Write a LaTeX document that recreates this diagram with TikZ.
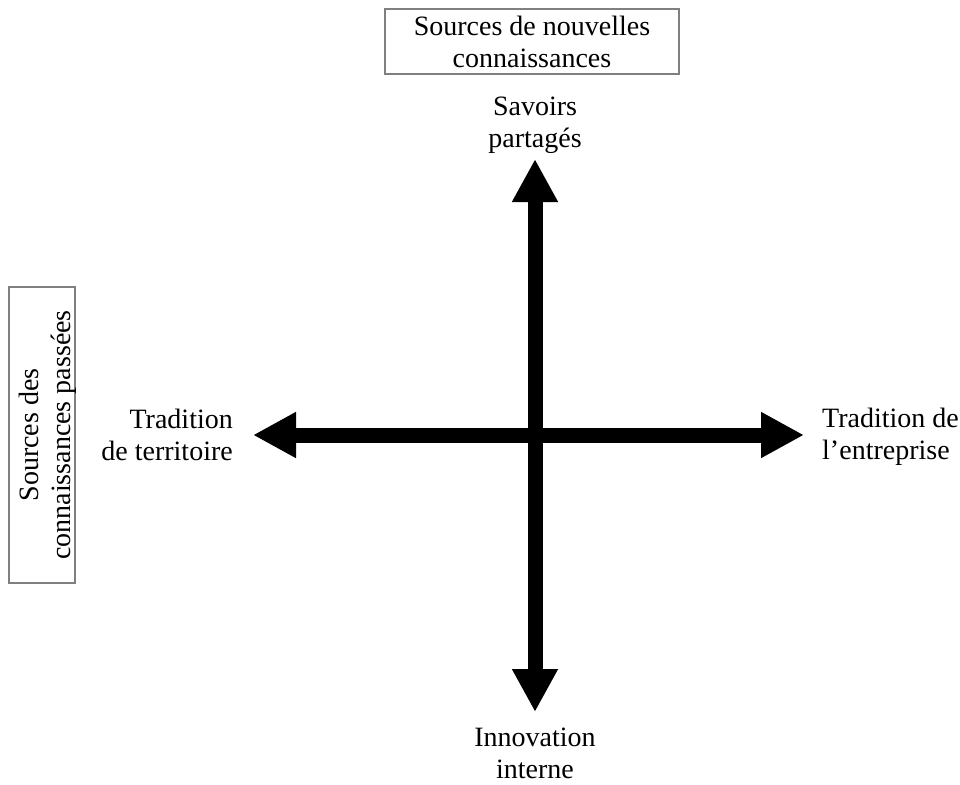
\documentclass[tikz,border=0pt]{standalone}
\usepackage{fontspec}
\setmainfont{Liberation Serif}
\usetikzlibrary{arrows.meta}
\begin{document}
\begin{tikzpicture}[x=1pt,y=-1pt,
  lbl/.style={inner sep=0pt, font=\fontsize{28}{32}\selectfont},
  frame/.style={draw=black!50, line width=1.5pt, inner sep=0pt},
  axis/.style={line width=15pt, {Triangle[width=43pt,length=43pt]}-{Triangle[width=43pt,length=43pt]}}]
\useasboundingbox (0,0) rectangle (960,784);
% axes end points
\coordinate (L) at (253,435);
\coordinate (R) at (804,435);
\coordinate (U) at (535,159);
\coordinate (D) at (535,712);
\draw[axis] (L) -- (R);
\draw[axis] (D) -- (U);
% top box
\node[frame, lbl, align=center, minimum width=294pt, minimum height=65pt] (topbox) at (532,41.5)
  {Sources de nouvelles\\connaissances};
% left box
\node[frame, minimum width=66pt, minimum height=296pt] (leftbox) at (42,435) {};
\node[lbl, align=center, rotate=90] (lefttext) at (47.5,435)
  {Sources des\\connaissances passées};
% axis labels
\node[lbl, align=center] (up) at (535,125.5) {Savoirs\\partagés};
\node[lbl, align=center] (down) at (535,753) {Innovation\\interne};
\node[lbl, align=left, anchor=west] (right) at (822,437) {Tradition de\\l’entreprise};
\node[lbl, align=right, anchor=east] (left) at (233,434.5) {Tradition\\de territoire};
\end{tikzpicture}
\end{document}
